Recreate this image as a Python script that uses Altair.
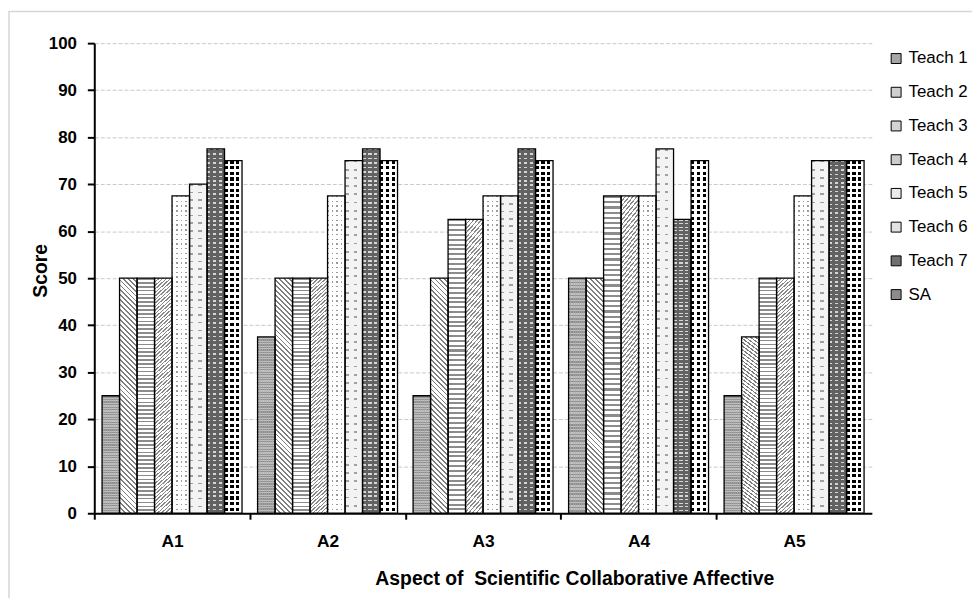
import altair as alt
import pandas as pd

# ---------------- data ----------------
aspects = ["A1", "A2", "A3", "A4", "A5"]
teachers = ["Teach 1", "Teach 2", "Teach 3", "Teach 4", "Teach 5", "Teach 6", "Teach 7", "SA"]
teach1 = [25, 37.5, 25, 50, 25]
teach2 = [50, 50, 50, 50, 37.5]
teach3 = [50, 50, 62.5, 67.5, 50]
teach4 = [50, 50, 62.5, 67.5, 50]
teach5 = [67.5, 67.5, 67.5, 67.5, 67.5]
teach6 = [70, 75, 67.5, 77.5, 75]
teach7 = [77.5, 77.5, 77.5, 62.5, 75]
sa = [75, 75, 75, 75, 75]
series = [teach1, teach2, teach3, teach4, teach5, teach6, teach7, sa]
y_ticks = [0, 10, 20, 30, 40, 50, 60, 70, 80, 90, 100]
x_title = "Aspect of\u00a0 Scientific Collaborative Affective"

records = []
for t, vals in zip(teachers, series):
    for a, v in zip(aspects, vals):
        records.append({"Aspect": a, "Teacher": t, "Score": v})
df = pd.DataFrame(records)

# ---------------- layout / style ----------------
PLOT_W, PLOT_H = 784, 474
STEP = PLOT_W / 5
BAR_W = STEP * 0.9 / 8
PX = PLOT_H / 100.0
FONT = "Liberation Sans, Arial, sans-serif"
CLEAR = "rgba(255,255,255,0)"


def _r(v):
    return round(min(max(v, 0.0), 1.0), 5)


def band_stops(ca, cb, n, frac):
    stops = []
    for i in range(n):
        s, m, e = i / n, (i + frac) / n, (i + 1) / n
        stops += [
            {"offset": _r(s), "color": ca},
            {"offset": _r(m), "color": ca},
            {"offset": _r(m), "color": cb},
            {"offset": _r(e), "color": cb},
        ]
    return stops


def rows(ca, cb, pitch, frac, units):
    n = max(1, round(units * PX / pitch))
    return {"gradient": "linear", "x1": 0, "y1": 0, "x2": 0, "y2": 1,
            "stops": band_stops(ca, cb, n, frac)}


def cols(ca, cb, n, frac):
    return {"gradient": "linear", "x1": 0, "y1": 0, "x2": 1, "y2": 0,
            "stops": band_stops(ca, cb, n, frac)}


def diag(ca, cb, pitch, frac, units, kind):
    w = BAR_W
    h = units * PX
    lam = (h + w) / (w * w + h * h)
    n = max(1, round((h + w) / pitch))
    if kind == "back":  # "\" lines
        g = {"gradient": "linear", "x1": 0, "y1": 1,
             "x2": round(lam * w, 5), "y2": round(1 - lam * h, 5)}
    else:  # "/" lines
        g = {"gradient": "linear", "x1": 0, "y1": 0,
             "x2": round(lam * w, 5), "y2": round(lam * h, 5)}
    g["stops"] = band_stops(ca, cb, n, frac)
    return g


patterns = {
    "Teach 1": [rows("#8e8e8e", "#c2c2c2", 2.0, 0.5, 30),
                cols(CLEAR, "rgba(170,170,170,0.55)", 9, 0.5)],
    "Teach 2": [diag("#7e7e7e", "#ffffff", 5.0, 0.38, 50, "back")],
    "Teach 3": [rows("#8c8c8c", "#ffffff", 4.3, 0.42, 55)],
    "Teach 4": [diag("#8a8a8a", "#ffffff", 3.9, 0.4, 55, "fwd")],
    "Teach 5": [rows("#9a9a9a", "#ffffff", 4.8, 0.3, 67.5),
                cols(CLEAR, "#ffffff", 4, 0.32)],
    "Teach 6": [rows("#a0a0a0", "#f3f3f3", 8.0, 0.2, 73),
                cols(CLEAR, "#f3f3f3", 2, 0.42)],
    "Teach 7": [rows("#d6d6d6", "#626262", 4.3, 0.34, 74),
                cols(CLEAR, "#626262", 3, 0.55)],
    "SA": [rows("#000000", "#ffffff", 5.6, 0.55, 75),
           cols(CLEAR, "#ffffff", 3, 0.56)],
}
legend_colors = ["#a6a6a6", "#cfcfcf", "#d4d4d4", "#cccccc", "#ebebeb", "#e2e2e2", "#707070", "#8c8c8c"]

# ---------------- encodings ----------------
x_enc = alt.X(
    "Aspect:N",
    scale=alt.Scale(domain=aspects, paddingInner=0.1, paddingOuter=0.05),
    axis=alt.Axis(
        title=x_title,
        labelAngle=0,
        labelFont=FONT, labelFontSize=17.5, labelFontWeight="bold", labelColor="black",
        labelPadding=14, labelBaseline="top",
        tickOffset=-STEP / 2, labelOffset=STEP / 2,
        tickSize=6, tickColor="black", tickWidth=2,
        domainColor="black", domainWidth=2,
        grid=False,
        titleFont=FONT, titleFontSize=19.5, titleFontWeight="bold", titleColor="black",
        titleX=484, titleY=72, titleAlign="center", titleBaseline="alphabetic",
    ),
)
xo_enc = alt.XOffset("Teacher:N", scale=alt.Scale(domain=teachers, paddingInner=0, paddingOuter=0))
y_enc = alt.Y(
    "Score:Q",
    scale=alt.Scale(domain=[0, 100], nice=False),
    axis=alt.Axis(
        title="Score",
        values=y_ticks,
        labelFont=FONT, labelFontSize=17, labelFontWeight="bold", labelColor="black",
        labelPadding=11,
        tickSize=7, tickColor="black", tickWidth=2,
        domainColor="black", domainWidth=2,
        grid=True, gridColor="#c8c8c8", gridDash=[4, 2], gridWidth=1,
        titleFont=FONT, titleFontSize=19.5, titleFontWeight="bold", titleColor="black",
        titleAngle=270, titleX=-48, titleY=229, titleAlign="center", titleBaseline="alphabetic",
    ),
)

frame = alt.Chart(pd.DataFrame({"k": [0]})).mark_rect(
    fillOpacity=0, stroke="#d6d6d6", strokeWidth=1.5, clip=False
).encode(x=alt.value(-86), x2=alt.value(920), y=alt.value(-32), y2=alt.value(580))

base = alt.Chart(df).mark_bar().encode(
    x=x_enc, xOffset=xo_enc, y=y_enc,
    fill=alt.Fill(
        "Teacher:N",
        scale=alt.Scale(domain=teachers, range=legend_colors),
        legend=alt.Legend(
            title=None, orient="none", legendX=800, legendY=7, padding=0,
            labelFont=FONT, labelFontSize=17, labelColor="black", labelOffset=4,
            symbolType="square", symbolSize=100, symbolStrokeColor="black",
            symbolStrokeWidth=1, symbolOpacity=1, rowPadding=16,
        ),
    ),
)

pattern_layers = []
for t in teachers:
    for g in patterns[t]:
        pattern_layers.append(
            alt.Chart(df)
            .transform_filter(alt.datum.Teacher == t)
            .mark_bar(fill=g)
            .encode(x=x_enc, xOffset=xo_enc, y=y_enc)
        )

outline = alt.Chart(df).mark_bar(fillOpacity=0, stroke="black", strokeWidth=1.3).encode(
    x=x_enc, xOffset=xo_enc, y=y_enc
)

chart = (
    alt.layer(frame, base, *pattern_layers, outline)
    .properties(
        width=PLOT_W, height=PLOT_H,
        autosize=alt.AutoSizeParams(type="none"),
        padding={"left": 87, "top": 33, "right": 101, "bottom": 83},
        background="white",
    )
    .configure_view(stroke="transparent")
)

chart.save("out.html", embed_options={"renderer": "svg", "actions": False})
